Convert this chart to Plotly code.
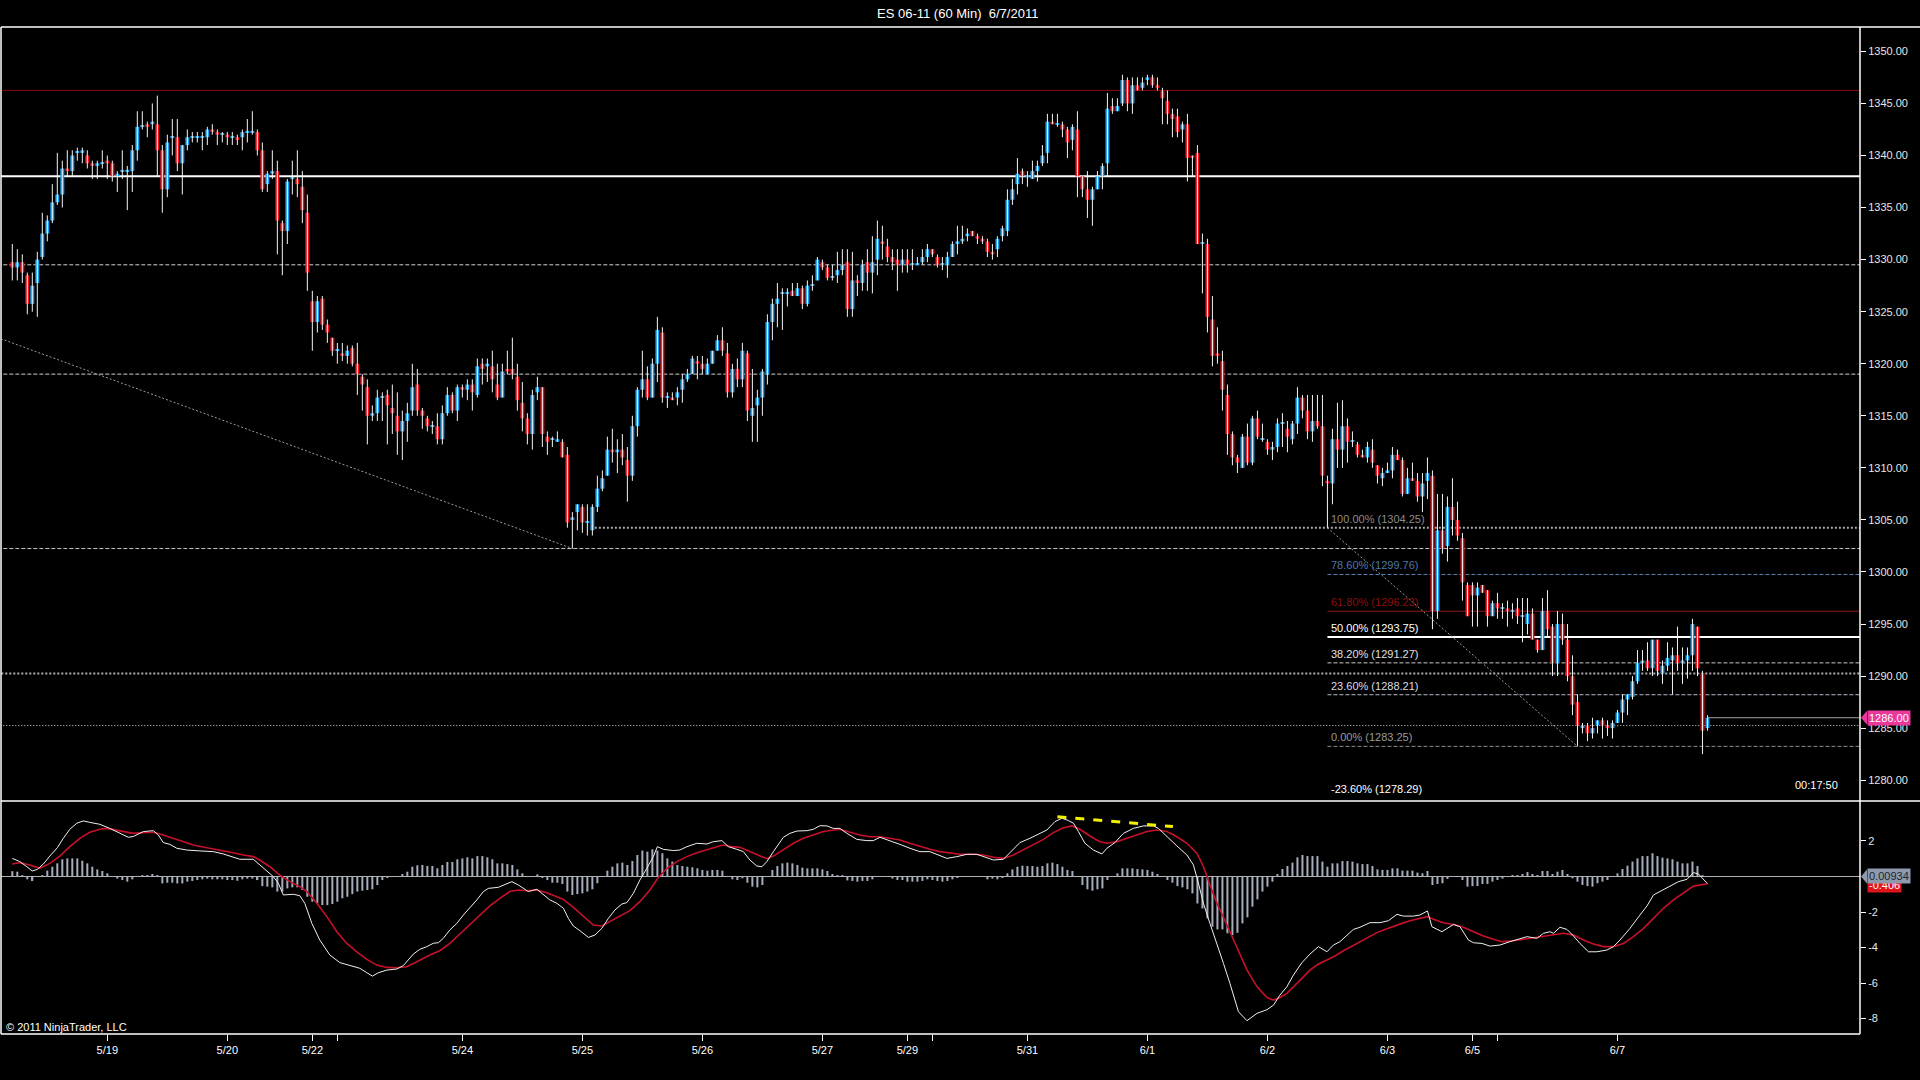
import plotly.graph_objects as go

# ES 06-11, 60 minute bars, 5/18 evening .. 6/7 (bar index 0..339)
opens = [
    1329.75, 1329.25, 1329.75, 1328.5, 1325.75, 1327.75, 1330.25, 1332.5, 1333.75, 1335.5,
    1336.25, 1338.75, 1338.5, 1340.25, 1340.25, 1340, 1339.25, 1339, 1339.25, 1339.5,
    1339.25, 1338, 1338.5, 1338.5, 1338.5, 1340.5, 1342.75, 1343, 1343, 1343,
    1340.5, 1336.75, 1341.75, 1341.75, 1339.25, 1341, 1341.75, 1341.75, 1341.75, 1341.75,
    1342.5, 1342.25, 1342, 1342, 1341.75, 1341.75, 1341.75, 1342.25, 1342.25, 1342.25,
    1340.5, 1337.25, 1338.25, 1338.5, 1333.5, 1332.75, 1337.75, 1337.75, 1337, 1334.5,
    1326, 1324, 1326.25, 1323.75, 1322.5, 1321.25, 1321, 1320.75, 1321.5, 1320,
    1318.75, 1317.75, 1315, 1315.25, 1316.75, 1317, 1315.75, 1315, 1313.5, 1314.5,
    1315.5, 1318, 1315.5, 1314.75, 1314, 1314, 1312.75, 1315.25, 1317, 1315.5,
    1317.75, 1317.5, 1318, 1317, 1320, 1319.75, 1319.75, 1318, 1316.75, 1319.5,
    1319.5, 1318.75, 1316.25, 1314.75, 1313.25, 1317.25, 1317.75, 1313, 1312.75, 1312.5,
    1312.5, 1311.25, 1305, 1305.75, 1306.25, 1304.75, 1304, 1306.25, 1308, 1309.25,
    1311.75, 1311.5, 1311.75, 1310.75, 1309.25, 1314, 1317.5, 1318.5, 1316.75, 1320,
    1323, 1316.75, 1316.75, 1316.75, 1317.5, 1318.5, 1319, 1320.25, 1320, 1319,
    1320, 1321.25, 1322.25, 1321, 1317.25, 1319.5, 1318.5, 1321, 1315, 1316,
    1316.75, 1319, 1324, 1325.75, 1326.75, 1326.75, 1327, 1326.5, 1327.25, 1325.75,
    1327.5, 1328, 1329.75, 1329.25, 1328.25, 1328.5, 1329, 1329.75, 1325.25, 1328,
    1327.75, 1329.75, 1328.75, 1330, 1331.75, 1331.25, 1330.25, 1330, 1329.5, 1330,
    1329.5, 1329.5, 1329.75, 1330.25, 1331, 1330.25, 1329.5, 1329.5, 1330.25, 1331.5,
    1331.75, 1332.25, 1332.75, 1332.25, 1332, 1331.75, 1330.75, 1331, 1332.25, 1332.75,
    1335.75, 1337.25, 1338.5, 1338, 1337.75, 1338.5, 1339.25, 1340.25, 1343.25, 1343,
    1343, 1342.5, 1341.5, 1342.5, 1338, 1336.75, 1335.75, 1336.75, 1338, 1339.25,
    1344.75, 1344.25, 1345, 1347.25, 1345, 1346.75, 1346.5, 1347.25, 1347.5, 1346.75,
    1346.25, 1345.25, 1344, 1343.75, 1342.5, 1343, 1340, 1340.25, 1331.5, 1331.5,
    1324.25, 1321, 1320.25, 1317, 1313.25, 1311, 1310, 1313, 1310.5, 1314.75,
    1312.75, 1312.5, 1311.75, 1312, 1314.25, 1313.75, 1312.75, 1314.25, 1316.75, 1315.5,
    1313.5, 1314.5, 1314, 1308.75, 1308.5, 1312.75, 1311.75, 1314, 1312.5, 1312.25,
    1311.25, 1311, 1311.75, 1310.25, 1309, 1309.5, 1309.75, 1311.25, 1310.75, 1307.5,
    1309, 1308.75, 1307.25, 1308.75, 1309.25, 1296.25, 1304, 1302.5, 1306.25, 1305,
    1303.25, 1298.75, 1298.75, 1297.75, 1298.75, 1298.25, 1295.75, 1297, 1296.5, 1296.5,
    1296.25, 1296.5, 1295.75, 1295, 1296, 1293.5, 1292.5, 1296.25, 1294.75, 1291.25,
    1295, 1293.5, 1290, 1287.5, 1285, 1285.25, 1284.5, 1285.25, 1285.75, 1285.25,
    1285, 1285.5, 1286.5, 1287.75, 1288, 1289.5, 1291.25, 1291.5, 1290.75, 1293.5,
    1290.25, 1291, 1291.5, 1292, 1291.25, 1291.5, 1292, 1294.75, 1290.25, 1285,
]
highs = [
    1331.5, 1331, 1330.5, 1328.75, 1328.75, 1330.75, 1334.5, 1334.25, 1337.25, 1340.25,
    1339.5, 1340.5, 1340.5, 1340.75, 1340.75, 1340.5, 1339.5, 1339.5, 1340.5, 1340,
    1339.5, 1338.5, 1340.5, 1339, 1341, 1344.25, 1344.25, 1343.25, 1345, 1345.75,
    1341, 1342, 1343.5, 1343.5, 1341, 1342.5, 1342.25, 1342.25, 1342.25, 1342.75,
    1343, 1342.5, 1342.25, 1342.25, 1342.25, 1342, 1342.5, 1343.5, 1344.25, 1342.5,
    1341.25, 1338.5, 1340.5, 1339.5, 1333.75, 1337.75, 1339.5, 1340.5, 1338.5, 1336.25,
    1327, 1326.5, 1326.5, 1324.25, 1322.5, 1322, 1322, 1321.75, 1321.75, 1322,
    1319, 1318.5, 1316, 1317.5, 1317.25, 1317.5, 1318, 1317.25, 1315.5, 1316.25,
    1320, 1319.5, 1315.75, 1315, 1314.5, 1315.25, 1316, 1317.75, 1317.25, 1318,
    1318, 1318.5, 1318.5, 1320.5, 1320.5, 1320.5, 1321.25, 1320, 1320, 1321.25,
    1322.5, 1320, 1318.25, 1315.25, 1317.5, 1318.75, 1317.75, 1313.5, 1313, 1313.5,
    1312.75, 1312, 1305.75, 1306.5, 1306.5, 1306.5, 1306.5, 1309.25, 1309.75, 1313,
    1313.75, 1312.75, 1313.25, 1312, 1315, 1317.75, 1321.25, 1319.75, 1320.5, 1324.5,
    1323.5, 1317.25, 1317.25, 1317.75, 1319, 1319.5, 1320.75, 1320.75, 1320.75, 1320.5,
    1321.25, 1322.75, 1323.5, 1322, 1320, 1320.5, 1322, 1321.25, 1319.5, 1317.5,
    1319.5, 1324.75, 1326.25, 1327.75, 1327.25, 1327.25, 1327.75, 1327.75, 1327.5, 1328,
    1328.5, 1330.25, 1330, 1329.5, 1329.5, 1330.75, 1331, 1331, 1330.75, 1328.5,
    1330, 1331, 1332.25, 1333.75, 1333.25, 1332, 1331, 1331, 1331, 1331,
    1331, 1330.25, 1331, 1331.5, 1331, 1330.5, 1330.25, 1330.75, 1331.75, 1333.25,
    1333.25, 1333, 1332.75, 1332.5, 1332.25, 1332, 1331.5, 1332.25, 1333.25, 1336.75,
    1337.75, 1339.75, 1338.75, 1338.5, 1339.5, 1339.5, 1341, 1344, 1344, 1344,
    1343.25, 1342.75, 1343, 1344.25, 1338, 1338.5, 1337, 1338.5, 1339.25, 1346,
    1345.5, 1345.5, 1347.75, 1347.5, 1347.5, 1347.5, 1347.5, 1347.75, 1347.75, 1347.5,
    1346.5, 1346.25, 1344.5, 1344.5, 1343.25, 1344, 1340, 1341, 1332.5, 1332,
    1326.5, 1323.5, 1321.25, 1318, 1313.5, 1311.25, 1313.25, 1314.25, 1315, 1315.5,
    1314.25, 1312.75, 1312.5, 1314.75, 1315.25, 1314.5, 1314.5, 1317.75, 1317, 1317,
    1317, 1317, 1317, 1309.25, 1313.75, 1316.25, 1316.5, 1314.75, 1313.5, 1312.5,
    1311.75, 1312.5, 1312.75, 1310.25, 1310, 1310.5, 1312, 1311.75, 1311, 1310,
    1310.5, 1309.5, 1309.5, 1311, 1309.75, 1307.5, 1307.5, 1307.25, 1309, 1306.75,
    1303.75, 1299, 1299, 1299, 1298.75, 1298.25, 1297.25, 1298, 1297, 1297.25,
    1297, 1297.5, 1297.5, 1297.5, 1296.5, 1293.5, 1297.5, 1298.25, 1295, 1296.25,
    1296, 1295, 1292, 1288.25, 1285.5, 1285.5, 1286, 1285.75, 1286, 1285.75,
    1285.75, 1286.75, 1288.25, 1288.25, 1290, 1292.5, 1292.5, 1293.25, 1293.5, 1293.5,
    1291.5, 1293.25, 1292.75, 1294.75, 1292.75, 1292.75, 1295.5, 1294.75, 1290.5, 1286.25,
]
lows = [
    1328, 1328, 1327.75, 1324.75, 1325, 1324.5, 1330, 1331.75, 1333.5, 1335.25,
    1335, 1338, 1338, 1339.5, 1339.25, 1338.75, 1337.75, 1337.75, 1338.75, 1337.75,
    1337.5, 1336.5, 1337.75, 1334.75, 1336.5, 1339.5, 1342.5, 1341.75, 1342.5, 1338,
    1334.5, 1336, 1340, 1338.5, 1336.25, 1340.5, 1341.25, 1341.25, 1340.5, 1341,
    1342, 1341, 1341.25, 1341, 1341, 1341, 1340.5, 1341.25, 1342, 1340,
    1336.5, 1336.5, 1337.75, 1330.5, 1328.5, 1331.5, 1336.25, 1336, 1333.5, 1327,
    1321.25, 1323, 1323.25, 1322, 1320.75, 1320, 1320.25, 1320, 1319.75, 1317,
    1315.5, 1312.25, 1314.5, 1314.5, 1314.5, 1312.25, 1313.25, 1311.25, 1310.75, 1312.5,
    1315, 1315, 1313.75, 1313.5, 1313.25, 1312.25, 1312.25, 1315, 1315.25, 1314.5,
    1316.75, 1316.5, 1315.5, 1316.75, 1318, 1318.25, 1317.25, 1316.5, 1316.75, 1319,
    1318.5, 1315.5, 1313.5, 1312.25, 1311.75, 1316.5, 1312, 1311.25, 1312, 1312.5,
    1311, 1304.25, 1302.25, 1304, 1303.75, 1303.5, 1303.5, 1305.75, 1307.75, 1309.25,
    1310.5, 1309.5, 1310.25, 1306.75, 1308.75, 1313, 1316.75, 1316.5, 1316.75, 1318.25,
    1316.25, 1315.75, 1316.5, 1316, 1316.25, 1318.25, 1319, 1318.5, 1319, 1319,
    1320, 1321.25, 1320.75, 1316.75, 1316.75, 1317.75, 1317.75, 1314.5, 1312.5, 1312.5,
    1315, 1318, 1322.25, 1323.5, 1323.25, 1325.5, 1326.5, 1326.5, 1325.25, 1325.5,
    1327, 1328, 1329, 1328, 1328, 1327.75, 1328.5, 1324.5, 1324.5, 1326.5,
    1327, 1327, 1326.75, 1328.5, 1330, 1329.75, 1329, 1327, 1328.75, 1328.75,
    1329, 1329.5, 1329.5, 1329.75, 1330.25, 1329.25, 1329, 1328.25, 1330.25, 1330.5,
    1331.5, 1331.75, 1332.25, 1331.5, 1331.5, 1330.25, 1330, 1330.25, 1331.75, 1332.25,
    1335.25, 1336.25, 1337.25, 1337, 1337.75, 1337.5, 1339, 1339.25, 1343, 1342.75,
    1341.75, 1339.75, 1340.5, 1336, 1336, 1334, 1333.25, 1336.75, 1336.75, 1338,
    1344, 1344.25, 1344.75, 1344.25, 1344, 1346.25, 1346.25, 1346.75, 1346.5, 1346.25,
    1343, 1343, 1341.75, 1341.75, 1341.25, 1337.5, 1338, 1331.5, 1326.75, 1323,
    1319.75, 1320, 1315.5, 1311.25, 1310.25, 1309.5, 1310, 1310.25, 1310.25, 1312.75,
    1312.5, 1311.25, 1310.75, 1311.5, 1312, 1311.5, 1312.25, 1313.25, 1314.75, 1312.75,
    1312.5, 1313.75, 1308.25, 1304.25, 1306.5, 1310, 1310, 1310.5, 1312, 1311,
    1311, 1310.5, 1310, 1308.5, 1308.25, 1309.5, 1309, 1310.75, 1307.25, 1307.5,
    1308.75, 1306.75, 1305.75, 1307, 1294.5, 1295.5, 1301.75, 1301, 1303.5, 1303,
    1297.25, 1295.75, 1294.75, 1294.75, 1298, 1294.75, 1295.75, 1295.5, 1295.5, 1294.75,
    1295.5, 1295, 1293.25, 1294, 1293.5, 1292.25, 1292.5, 1293.75, 1290, 1290,
    1293, 1289.5, 1286.25, 1283.25, 1284.5, 1283.75, 1284, 1284.5, 1284, 1284.25,
    1284, 1285.5, 1285.5, 1286.25, 1287.75, 1289.25, 1290.5, 1290.5, 1290, 1290,
    1289.25, 1290.5, 1288.25, 1290.5, 1289.25, 1289.75, 1290.5, 1290, 1282.5, 1284.75,
]
closes = [
    1329.25, 1329.75, 1328.75, 1325.75, 1327.5, 1330, 1332.5, 1333.75, 1335.5, 1336.25,
    1338.75, 1338.5, 1340, 1340.25, 1340.5, 1339.25, 1339, 1339.25, 1339.25, 1339.25,
    1338, 1338.25, 1338.5, 1338.5, 1340.5, 1342.75, 1342.75, 1342.75, 1343.25, 1340.5,
    1336.75, 1341.25, 1341.75, 1339.25, 1341, 1341.75, 1341.75, 1341.75, 1341.75, 1342.5,
    1342.25, 1342, 1342, 1341.75, 1341.75, 1341.5, 1342.25, 1342.25, 1342.25, 1340.5,
    1336.75, 1338.25, 1338.5, 1333.75, 1332.75, 1337.5, 1337.75, 1337.25, 1334.75, 1328.75,
    1324, 1326, 1323.75, 1323, 1321.25, 1321.25, 1320.75, 1321.25, 1320, 1319,
    1318, 1315, 1315.25, 1316.75, 1316.75, 1316, 1315.25, 1313.5, 1314.5, 1315.25,
    1317.75, 1315.5, 1315, 1314, 1314, 1312.75, 1315.25, 1317, 1315.5, 1317.75,
    1317.5, 1318, 1317.25, 1319.75, 1319.5, 1320, 1318.5, 1316.75, 1319.25, 1319.25,
    1319, 1316.5, 1314.75, 1313.25, 1317, 1317.75, 1313.25, 1312.5, 1312.75, 1312.75,
    1311, 1304.75, 1305.25, 1306.5, 1304.75, 1304.75, 1306.25, 1308, 1309, 1311.75,
    1311.5, 1311.75, 1311, 1309.25, 1314, 1317.5, 1318.5, 1316.75, 1320, 1323.25,
    1316.75, 1316.75, 1316.5, 1317.25, 1318.5, 1319, 1320.5, 1320, 1319.5, 1320,
    1321.25, 1322.25, 1321.25, 1317.25, 1319.5, 1318.5, 1321.25, 1315.5, 1315.75, 1316.75,
    1319.25, 1324, 1325.75, 1326.25, 1326.75, 1326.75, 1326.5, 1327.25, 1325.75, 1327.5,
    1327.5, 1330, 1329.25, 1328.25, 1328.25, 1329, 1329.5, 1325.25, 1328, 1327.75,
    1329.5, 1328.75, 1329.75, 1332, 1331.5, 1330.25, 1329.75, 1329.5, 1330, 1329.5,
    1329.5, 1329.5, 1330.25, 1331, 1330.5, 1329.5, 1329.5, 1330.25, 1331.5, 1331.75,
    1332, 1332.5, 1332.25, 1332, 1331.75, 1330.75, 1330.5, 1332, 1333, 1335.75,
    1336.75, 1338.25, 1338, 1338, 1338.5, 1339, 1340, 1343.25, 1343, 1343,
    1342.5, 1341.25, 1342.75, 1338, 1336.75, 1335.75, 1336.75, 1338, 1339, 1344.5,
    1344.25, 1344.75, 1347.25, 1345, 1346.75, 1346.25, 1347, 1347.5, 1346.75, 1346.5,
    1345.5, 1344, 1343.5, 1342.25, 1343, 1339.75, 1339.75, 1331.5, 1331.5, 1324.5,
    1320.75, 1320.75, 1317.5, 1313.25, 1311, 1310.5, 1313, 1310.5, 1314.75, 1313,
    1312.75, 1311.75, 1312, 1314.25, 1314.25, 1313, 1314.25, 1316.75, 1315.5, 1313.5,
    1314.5, 1314, 1309.25, 1308.5, 1312.75, 1311.75, 1314, 1312.5, 1312.5, 1311.25,
    1311, 1312, 1310.5, 1309.25, 1309.5, 1309.75, 1311.25, 1310.75, 1307.5, 1309,
    1308.75, 1307.25, 1308.5, 1309.5, 1296.25, 1304, 1302.25, 1306.25, 1305, 1303.5,
    1299, 1295.75, 1297.75, 1298.5, 1298, 1295.75, 1297, 1296.5, 1296.5, 1296.25,
    1296.25, 1295.75, 1295.75, 1296, 1293.5, 1292.5, 1296.25, 1294.5, 1291.25, 1295,
    1293.5, 1290, 1287.25, 1285.25, 1285.25, 1284.5, 1285, 1285.75, 1285.25, 1285,
    1285.5, 1286.5, 1287.75, 1288.25, 1289.5, 1291.25, 1291.5, 1290.75, 1293.5, 1290.5,
    1291, 1291.75, 1292, 1291.25, 1291.5, 1292, 1295, 1290.75, 1284.75, 1286,
]

# MACD panel: histogram per bar, lines sampled as (bar, value)
hist = [
    0.30, 0.27, 0.08, -0.16, -0.25, -0.02, 0.08, 0.33, 0.55, 0.74,
    0.97, 1.02, 1.02, 1.02, 0.89, 0.74, 0.55, 0.40, 0.31, 0.18,
    0.01, -0.12, -0.20, -0.29, -0.16, 0.01, 0.07, 0.07, 0.14, 0.07,
    -0.39, -0.35, -0.35, -0.39, -0.39, -0.29, -0.25, -0.20, -0.16, -0.12,
    -0.16, -0.16, -0.16, -0.20, -0.20, -0.24, -0.16, -0.12, -0.12, -0.20,
    -0.54, -0.57, -0.61, -0.85, -0.85, -0.67, -0.61, -0.61, -0.76, -1.14,
    -1.42, -1.52, -1.61, -1.61, -1.55, -1.42, -1.23, -1.14, -0.99, -0.85,
    -0.80, -0.76, -0.72, -0.48, -0.20, -0.07, 0.0, 0.0, 0.14, 0.27,
    0.55, 0.63, 0.65, 0.59, 0.59, 0.46, 0.65, 0.82, 0.82, 0.97,
    1.02, 1.08, 1.02, 1.15, 1.15, 1.08, 0.97, 0.74, 0.74, 0.70,
    0.65, 0.40, 0.18, 0.01, 0.01, 0.12, -0.07, -0.20, -0.35, -0.35,
    -0.42, -0.85, -1.04, -0.99, -0.95, -0.85, -0.72, -0.38, -0.03, 0.33,
    0.55, 0.74, 0.78, 0.65, 0.87, 1.21, 1.46, 1.40, 1.53, 1.46,
    1.31, 1.02, 0.84, 0.65, 0.59, 0.55, 0.52, 0.46, 0.37, 0.33,
    0.37, 0.37, 0.33, 0.01, -0.16, -0.20, -0.10, -0.35, -0.57, -0.61,
    -0.48, 0.01, 0.37, 0.59, 0.74, 0.78, 0.74, 0.65, 0.50, 0.46,
    0.46, 0.46, 0.40, 0.31, 0.14, 0.08, 0.05, -0.22, -0.25, -0.29,
    -0.25, -0.25, -0.16, 0.0, 0.0, 0.0, -0.12, -0.20, -0.20, -0.29,
    -0.29, -0.29, -0.25, -0.16, -0.20, -0.25, -0.29, -0.25, -0.16, -0.07,
    0.0, 0.0, 0.0, 0.0, 0.0, -0.16, -0.12, -0.16, -0.07, 0.18,
    0.40, 0.55, 0.61, 0.59, 0.59, 0.55, 0.59, 0.74, 0.78, 0.70,
    0.55, 0.37, 0.31, 0.0, -0.48, -0.72, -0.80, -0.72, -0.67, -0.20,
    0.0, 0.18, 0.46, 0.46, 0.46, 0.42, 0.40, 0.37, 0.27, 0.14,
    0.0, -0.20, -0.35, -0.54, -0.61, -0.72, -0.95, -1.52, -1.80, -2.36,
    -2.83, -2.98, -2.98, -3.20, -3.30, -3.17, -2.64, -2.30, -1.70, -1.29,
    -0.85, -0.57, -0.29, 0.14, 0.42, 0.59, 0.78, 1.08, 1.21, 1.15,
    1.15, 1.15, 0.84, 0.55, 0.74, 0.74, 0.87, 0.87, 0.84, 0.74,
    0.70, 0.70, 0.59, 0.40, 0.37, 0.37, 0.46, 0.46, 0.33, 0.33,
    0.33, 0.22, 0.18, 0.31, -0.48, -0.42, -0.38, -0.14, 0.0, 0.0,
    -0.20, -0.57, -0.54, -0.54, -0.42, -0.42, -0.29, -0.20, -0.12, 0.0,
    0.07, 0.07, 0.14, 0.25, 0.14, 0.08, 0.31, 0.31, 0.14, 0.27,
    0.37, 0.14, -0.10, -0.29, -0.48, -0.54, -0.57, -0.38, -0.29, -0.20,
    0.0, 0.18, 0.42, 0.61, 0.84, 1.02, 1.15, 1.15, 1.31, 1.15,
    1.06, 1.02, 0.97, 0.84, 0.74, 0.74, 0.84, 0.59, 0.05, 0.01,
]
macd_pts = [
    (0, 1.02), (1.5, 0.84), (2.9, 0.55), (4, 0.31), (5, 0.40), (6.2, 0.70), (7.5, 1.15),
    (9, 1.62), (10.2, 2.15), (11.5, 2.66), (12.9, 3.00), (14.2, 3.13), (15.5, 3.05),
    (17.5, 2.94), (19.5, 2.71), (21.5, 2.43), (23.2, 2.21), (24.2, 2.25), (26.2, 2.53),
    (28.2, 2.58), (29.2, 2.34), (30.2, 1.91), (31.5, 1.81), (32.9, 1.59), (34.9, 1.49),
    (37.5, 1.44), (40.2, 1.40), (42.2, 1.27), (44.2, 1.08), (45.5, 0.97), (48.2, 0.97),
    (49.5, 0.65), (50.9, 0.27), (52.2, -0.01), (53.2, -0.38), (54.2, -1.04), (56.2, -1.00),
    (57.5, -1.08), (58.5, -1.51), (59.9, -2.64), (61.5, -3.58), (63.5, -4.42), (65.5, -4.85),
    (67.5, -5.02), (69.5, -5.17), (70.9, -5.42), (72, -5.61), (73.2, -5.42), (74.9, -5.27),
    (76.9, -5.21), (78.2, -5.02), (80.2, -4.37), (81.5, -4.10), (82.9, -3.95), (84.2, -3.76),
    (85.2, -3.73), (86.2, -3.48), (87.5, -3.01), (88.9, -2.64), (90.2, -2.17), (91.5, -1.79),
    (92.9, -1.32), (94.2, -0.85), (95.2, -0.67), (97.2, -0.61), (98.9, -0.38), (99.9, -0.29),
    (101.2, -0.48), (102.2, -0.67), (103.2, -0.85), (104.9, -0.72), (106.2, -1.04),
    (107.5, -1.32), (108.9, -1.51), (110.2, -1.79), (111.2, -2.36), (112.2, -2.79),
    (113.5, -3.05), (115.2, -3.43), (116.5, -3.30), (117.9, -2.92), (119.2, -2.36),
    (120.5, -1.89), (121.9, -1.55), (122.9, -1.47), (124.2, -0.95), (125.5, -0.20),
    (126.9, 0.46), (128.2, 1.12), (129, 1.68), (130.2, 1.53), (132.2, 1.46), (133.5, 1.49),
    (134.9, 1.68), (136.9, 1.87), (138.9, 1.83), (140.2, 1.96), (141.9, 2.02), (143.2, 1.68),
    (144.9, 1.53), (146.2, 1.40), (147.5, 0.93), (148.9, 0.59), (149.9, 0.55), (150.9, 0.84),
    (152.2, 1.40), (154.2, 2.21), (155.5, 2.43), (156.9, 2.56), (158.9, 2.58), (160.2, 2.66),
    (161.5, 2.86), (162.9, 2.85), (164.2, 2.71), (165.5, 2.71), (166.9, 2.43), (168.9, 2.09),
    (170.9, 2.02), (172.2, 2.02), (173.5, 2.21), (175.5, 2.02), (177.5, 1.81), (179.5, 1.59),
    (181.5, 1.40), (183.5, 1.40), (185.5, 1.15), (186.9, 1.02), (188.9, 1.12), (190.9, 1.25),
    (192.9, 1.25), (194.9, 1.06), (196.2, 0.93), (198.2, 0.97), (199.5, 1.34), (201.5, 1.91),
    (203.5, 2.15), (205.5, 2.43), (206.9, 2.62), (208.5, 3.09), (209.9, 3.28), (211.2, 3.15),
    (212.2, 3.00), (213.2, 2.53), (214.5, 1.87), (216.2, 1.49), (217.9, 1.27), (218.9, 1.59),
    (220.5, 1.91), (222.2, 2.43), (224.2, 2.71), (226.2, 2.85), (228.2, 2.85), (229.2, 2.71),
    (230.9, 2.24), (232.9, 1.72), (234.9, 1.21), (236.2, 0.65), (237.2, -0.38), (238.2, -1.51),
    (239.5, -2.64), (240.9, -3.77), (242.2, -4.89), (243.5, -6.02), (245.2, -7.61),
    (246.9, -8.12), (248.9, -7.71), (250.9, -7.50), (252.2, -7.25), (253.5, -6.68),
    (254.9, -6.20), (256.2, -5.55), (257.9, -4.85), (259.5, -4.37), (261.2, -3.95),
    (262.9, -4.24), (264.2, -3.86), (265.5, -3.67), (266.9, -3.30), (268.2, -2.98),
    (269.5, -2.86), (271.5, -2.60), (273.5, -2.60), (275.2, -2.49), (276.9, -2.13),
    (278.2, -2.23), (280.2, -2.23), (281.5, -2.17), (283, -1.94), (283.9, -2.83),
    (285.9, -3.11), (286.9, -2.92), (288.2, -2.70), (289.5, -2.83), (291.2, -3.58),
    (292.2, -3.73), (293.9, -3.77), (295.5, -3.92), (297.5, -3.86), (299.5, -3.67),
    (301.2, -3.54), (302.9, -3.39), (304.9, -3.48), (306.2, -3.20), (307.5, -3.11),
    (308.2, -3.20), (309.5, -2.86), (310.9, -2.98), (312.2, -3.35), (313.5, -3.77),
    (315.2, -4.24), (316.9, -4.24), (318.9, -4.14), (320.2, -3.95), (321.5, -3.58),
    (323.5, -2.92), (325.5, -2.17), (326.9, -1.66), (328.2, -1.04), (329.5, -0.85),
    (331.5, -0.54), (333.2, -0.29), (334.9, -0.16), (336.2, 0.22), (337.2, 0.14), (339, -0.40),
]
signal_pts = [
    (0, 0.70), (1.5, 0.78), (3.5, 0.65), (5.5, 0.46), (7.5, 0.74), (9.5, 1.15), (11.5, 1.68),
    (13.5, 2.15), (15.5, 2.49), (17.5, 2.66), (18.9, 2.71), (20.9, 2.62), (22.9, 2.49),
    (24.2, 2.43), (26.2, 2.47), (28.2, 2.49), (30.2, 2.34), (32.2, 2.15), (34.2, 1.96),
    (36.2, 1.77), (38.9, 1.62), (41.5, 1.49), (44.2, 1.34), (46.2, 1.21), (48.2, 1.12),
    (49.5, 0.93), (51.5, 0.55), (53.5, 0.08), (55.5, -0.29), (57.5, -0.57), (58.9, -0.85),
    (60.9, -1.51), (62.9, -2.26), (64.9, -3.11), (66.9, -3.77), (68.9, -4.24), (70.9, -4.67),
    (72.9, -4.99), (74.9, -5.12), (76.9, -5.14), (78.9, -5.08), (80.9, -4.80), (83.5, -4.42),
    (85.5, -4.18), (87.5, -3.77), (89.5, -3.24), (91.5, -2.73), (93.5, -2.17), (95.5, -1.66),
    (97.5, -1.23), (99.5, -0.85), (101.2, -0.76), (102.9, -0.80), (104.9, -0.76),
    (106.9, -0.91), (108.9, -1.14), (110.2, -1.29), (112.2, -1.74), (114.2, -2.26),
    (116.2, -2.73), (117.9, -2.79), (119.5, -2.54), (121.5, -2.26), (123.5, -1.92),
    (125.5, -1.42), (127.5, -0.76), (129.2, -0.05), (130.9, 0.46), (132.9, 0.84),
    (134.9, 1.12), (136.9, 1.34), (138.9, 1.53), (140.9, 1.68), (142.2, 1.77), (143.9, 1.68),
    (145.5, 1.64), (147.5, 1.40), (149.5, 1.15), (150.9, 1.00), (152.2, 1.15), (154.2, 1.49),
    (156.2, 1.87), (158.2, 2.15), (160.2, 2.34), (162.2, 2.53), (164.2, 2.62), (165.5, 2.66),
    (167.5, 2.49), (169.5, 2.34), (171.5, 2.24), (173.5, 2.24), (175.5, 2.15), (177.5, 2.06),
    (179.5, 1.87), (181.5, 1.68), (183.5, 1.53), (185.5, 1.40), (187.5, 1.31), (189.5, 1.25),
    (192.2, 1.25), (194.2, 1.21), (196.2, 1.08), (198.2, 1.02), (200.2, 1.21), (202.2, 1.49),
    (204.2, 1.77), (206.2, 2.09), (208.2, 2.47), (210.2, 2.75), (211.9, 2.85), (213.5, 2.66),
    (215.5, 2.28), (217.5, 1.96), (218.9, 1.87), (220.9, 1.96), (222.9, 2.15), (224.9, 2.34),
    (226.9, 2.53), (228.9, 2.62), (230.9, 2.53), (232.9, 2.24), (234.9, 1.87), (236.9, 1.31),
    (238.2, 0.55), (239.5, -0.48), (240.9, -1.51), (242.9, -2.73), (244.9, -3.95),
    (246.9, -5.26), (248.9, -6.20), (250.9, -6.82), (252.2, -6.96), (253.5, -6.81),
    (254.9, -6.58), (256.2, -6.24), (257.9, -5.74), (259.5, -5.27), (261.2, -4.93),
    (262.9, -4.70), (264.5, -4.48), (266.2, -4.18), (267.9, -3.92), (269.5, -3.67),
    (271.2, -3.39), (272.9, -3.16), (274.5, -2.98), (276.2, -2.79), (277.9, -2.64),
    (279.5, -2.49), (281.2, -2.39), (282.9, -2.26), (284.2, -2.41), (286.2, -2.60),
    (288.2, -2.70), (290.2, -2.86), (292.2, -3.11), (294.2, -3.35), (296.2, -3.54),
    (297.9, -3.67), (300.2, -3.62), (302.2, -3.54), (304.2, -3.48), (306.2, -3.39),
    (308.2, -3.30), (310.2, -3.20), (312.2, -3.30), (314.2, -3.58), (316.2, -3.80),
    (318.2, -3.95), (320.2, -3.95), (322.2, -3.77), (324.2, -3.39), (326.2, -2.92),
    (328.2, -2.36), (330.2, -1.79), (332.2, -1.32), (334.2, -0.95), (336.2, -0.54), (339, -0.41),
]

# date labels on the time axis (bar index of the first bar of each date)
date_ticks = [19, 43, 60, 65, 90, 114, 138, 162, 179, 184, 203, 227, 251, 275, 292, 297, 321]
date_labels = ["5/19", "5/20", "5/22", "", "5/24", "5/25", "5/26", "5/27", "5/29", "",
               "5/31", "6/1", "6/2", "6/3", "6/5", "", "6/7"]

# drawn horizontal levels: price, first bar, colour, dash, width
levels = [
    (1346.25, -3, "#8B0A0A", "solid", 1),
    (1338.0, -3, "#FFFFFF", "solid", 2),
    (1329.5, -3, "#D0D0D0", "4px,2px", 1),
    (1319.0, -3, "#D0D0D0", "4px,2px", 1),
    (1304.25, 115.7, "#A8A8A8", "2px,2px", 2),
    (1302.25, -3, "#C8C8C8", "4px,2px", 1),
    (1290.25, -3, "#B0B0B0", "2px,2px", 2),
    (1285.25, -3, "#D8D8D8", "1px,2px", 1),
]

# Fibonacci retracement drawn from the 6/3 low (bar 263) to the 6/6 low (bar 313)
fib_anchor = [(263, 1304.25), (313, 1283.25)]
fib_pct = [100.0, 78.6, 61.8, 50.0, 38.2, 23.6, 0.0, -23.6]
fib_price = [1304.25, 1299.76, 1296.23, 1293.75, 1291.27, 1288.21, 1283.25, 1278.29]
fib_line_col = ["#A8A8A8", "#5A80B0", "#8B1A1A", "#FFFFFF", "#C8C8C8", "#B8BCC8", "#8C8C8C", None]
fib_text_col = ["#8C8C8C", "#4E78A8", "#8B1010", "#FFFFFF", "#E0E0E0", "#D8DCE8", "#9A9A9A", "#FFFFFF"]
fib_dash = ["2px,2px", "4px,2px", "solid", "solid", "4px,2px", "4px,2px", "4px,2px", None]
fib_width = [0, 1, 1, 2, 1, 1, 1, 0]

trend_line = [(-2.3, 1322.4), (112, 1302.25)]
macd_div_line = [(209.0, 3.37), (232.1, 2.81)]

last_price = 1286.00
XR = [-2.26, 369.5]
UP, DOWN = "#1A9CEA", "#E8121A"

idx = list(range(len(closes)))
body_base = [min(o, c) for o, c in zip(opens, closes)]
body_h = [max(abs(c - o), 0.12) for o, c in zip(opens, closes)]
body_col = [UP if c >= o else DOWN for o, c in zip(opens, closes)]
wick_x, wick_y = [], []
for i, h, l in zip(idx, highs, lows):
    wick_x += [i, i, None]
    wick_y += [l, h, None]

fig = go.Figure()
fig.add_trace(go.Scatter(x=wick_x, y=wick_y, mode="lines", line=dict(color="#F4F4F4", width=1),
                         hoverinfo="skip"))
fig.add_trace(go.Bar(x=idx, y=body_h, base=body_base, width=0.8,
                     marker=dict(color=body_col, line=dict(width=0))))
fig.add_trace(go.Bar(x=idx, y=hist, width=0.4, yaxis="y2",
                     marker=dict(color="#A6AEBE", line=dict(width=0))))
fig.add_trace(go.Scatter(x=[p[0] for p in signal_pts], y=[p[1] for p in signal_pts], yaxis="y2",
                         mode="lines", line=dict(color="#C8102A", width=1.6)))
fig.add_trace(go.Scatter(x=[p[0] for p in macd_pts], y=[p[1] for p in macd_pts], yaxis="y2",
                         mode="lines", line=dict(color="#F0F0F0", width=1)))

shapes = []
for price, x0, col, dash, w in levels:
    shapes.append(dict(type="line", xref="x", yref="y", x0=x0, x1=XR[1], y0=price, y1=price,
                       line=dict(color=col, width=w, dash=dash), layer="below"))
for pct, price, col, dash, w in zip(fib_pct, fib_price, fib_line_col, fib_dash, fib_width):
    if col and w:
        shapes.append(dict(type="line", xref="x", yref="y", x0=fib_anchor[0][0], x1=XR[1],
                           y0=price, y1=price, line=dict(color=col, width=w, dash=dash),
                           layer="below"))
shapes.append(dict(type="line", xref="x", yref="y", x0=trend_line[0][0], y0=trend_line[0][1],
                   x1=trend_line[1][0], y1=trend_line[1][1],
                   line=dict(color="#9A9A9A", width=1, dash="2px,2px"), layer="below"))
shapes.append(dict(type="line", xref="x", yref="y", x0=fib_anchor[0][0], y0=fib_anchor[0][1],
                   x1=fib_anchor[1][0], y1=fib_anchor[1][1],
                   line=dict(color="#9A9A9A", width=1, dash="2px,2px"), layer="below"))
shapes.append(dict(type="line", xref="x", yref="y", x0=idx[-1], x1=XR[1], y0=last_price,
                   y1=last_price, line=dict(color="#A0A0A0", width=1)))
shapes.append(dict(type="line", xref="x", yref="y2", x0=XR[0], x1=XR[1], y0=0, y1=0,
                   line=dict(color="#B4B4B4", width=1), layer="below"))
shapes.append(dict(type="line", xref="x", yref="y2", x0=macd_div_line[0][0], y0=macd_div_line[0][1],
                   x1=macd_div_line[1][0], y1=macd_div_line[1][1],
                   line=dict(color="#F0F000", width=3, dash="dash")))

# panel frame
P_TOP, P_SEP, P_BOT = 0.975, 0.2583, 0.0426
right_edge = 1919 / 1859
for y in (P_TOP, P_SEP):
    shapes.append(dict(type="line", xref="paper", yref="paper", x0=0, x1=right_edge, y0=y, y1=y,
                       line=dict(color="white", width=1.5)))
shapes.append(dict(type="line", xref="paper", yref="paper", x0=0, x1=1, y0=P_BOT, y1=P_BOT,
                   line=dict(color="white", width=1.5)))
for x in (0, 1):
    shapes.append(dict(type="line", xref="paper", yref="paper", x0=x, x1=x, y0=P_BOT, y1=P_TOP,
                       line=dict(color="white", width=1.5)))
# arrow heads of the value tags on the axis
shapes.append(dict(type="path", xref="paper", yref="y", xsizemode="pixel", ysizemode="pixel",
                   xanchor=1, yanchor=last_price, path="M 1 0 L 7 -7 L 7 7 Z",
                   fillcolor="#E8389A", line=dict(width=0)))
shapes.append(dict(type="path", xref="paper", yref="y2", xsizemode="pixel", ysizemode="pixel",
                   xanchor=1, yanchor=0, path="M 1 0 L 7 -7 L 7 7 Z",
                   fillcolor="#8E9AAC", line=dict(width=0)))

ann = []
for pct, price, col in zip(fib_pct, fib_price, fib_text_col):
    ann.append(dict(x=fib_anchor[0][0] + 0.3, y=price, xref="x", yref="y", xanchor="left",
                    yanchor="bottom", yshift=1, showarrow=False,
                    text=f"{pct:.2f}% ({price:.2f})", font=dict(size=11, color=col)))
ann.append(dict(x=1, y=last_price, xref="paper", yref="y", xanchor="left", xshift=7,
                showarrow=False, text=f"{last_price:.2f}", bgcolor="#E8389A",
                font=dict(size=11, color="white"), borderpad=1))
ann.append(dict(x=1, y=-0.5, xref="paper", yref="y2", xanchor="left", xshift=7,
                showarrow=False, text="-0.406", bgcolor="#E0141C",
                font=dict(size=11, color="white"), borderpad=1))
ann.append(dict(x=1, y=0, xref="paper", yref="y2", xanchor="left", xshift=7,
                showarrow=False, text="0.00934", bgcolor="#8E9AAC",
                font=dict(size=11, color="#1C2431"), borderpad=1))
ann.append(dict(x=(1840 - 1) / 1859, y=1 - 785 / 1080, xref="paper", yref="paper",
                xanchor="right", yanchor="middle", showarrow=False, text="00:17:50",
                font=dict(size=11, color="white")))
ann.append(dict(x=3 / 1859, y=1 - 1027 / 1080, xref="paper", yref="paper", xanchor="left",
                yanchor="middle", showarrow=False, text="© 2011 NinjaTrader, LLC",
                font=dict(size=11, color="white")))
ann.append(dict(x=(957 - 1) / 1859, y=1 - 13 / 1080, xref="paper", yref="paper",
                xanchor="center", yanchor="middle", showarrow=False,
                text="ES 06-11 (60 Min)  6/7/2011", font=dict(size=13, color="white")))

fig.update_layout(
    width=1920, height=1080,
    paper_bgcolor="black", plot_bgcolor="black",
    margin=dict(l=1, r=60, t=0, b=0, autoexpand=False),
    showlegend=False, barmode="overlay", hovermode=False,
    font=dict(family="Liberation Sans, Arial, sans-serif", size=11, color="#E6E6E6"),
    xaxis=dict(domain=[0, 1], range=XR, anchor="y2", tickvals=date_ticks, ticktext=date_labels,
               ticks="outside", ticklen=6, tickcolor="white", tickfont=dict(size=11, color="white"),
               showgrid=False, zeroline=False, showline=False),
    yaxis=dict(domain=[P_SEP, P_TOP], range=[1278.0, 1352.34], side="right", anchor="x",
               tick0=1280, dtick=5, tickformat=".2f", ticks="outside", ticklen=5,
               tickcolor="white", showgrid=False, zeroline=False, showline=False),
    yaxis2=dict(domain=[P_BOT, P_SEP], range=[-8.87, 4.25], side="right", anchor="x",
                tickvals=[2, -2, -4, -6, -8], ticktext=["2", "-2", "-4", "-6", "-8"],
                ticks="outside", ticklen=5, tickcolor="white", showgrid=False,
                zeroline=False, showline=False),
    shapes=shapes,
    annotations=ann,
)

fig.write_html("out.html", config={"displayModeBar": False},
               post_script="document.body.style.margin='0';")
